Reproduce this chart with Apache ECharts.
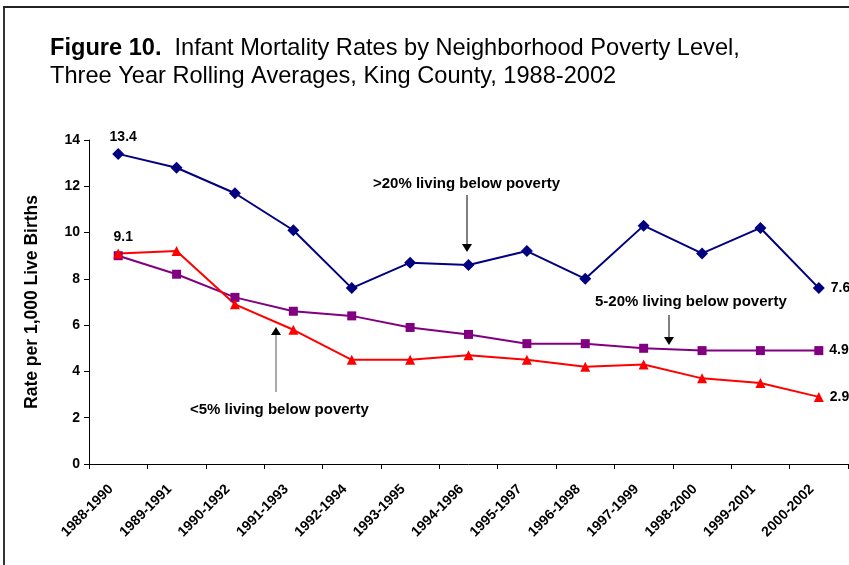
<!DOCTYPE html>
<html><head><meta charset="utf-8">
<script src="https://cdn.jsdelivr.net/npm/echarts@6/dist/echarts.min.js"></script>
<style>html,body{margin:0;padding:0;background:#fff}#c{width:849px;height:565px}</style>
</head><body><div id="c"></div>
<script>
const categories = ['1988-1990','1989-1991','1990-1992','1991-1993','1992-1994','1993-1995','1994-1996','1995-1997','1996-1998','1997-1999','1998-2000','1999-2001','2000-2002'];
const over20 = [13.4,12.8,11.7,10.1,7.6,8.7,8.6,9.2,8.0,10.3,9.1,10.2,7.6];
const mid5to20 = [9.0,8.2,7.2,6.6,6.4,5.9,5.6,5.2,5.2,5.0,4.9,4.9,4.9];
const under5 = [9.1,9.2,6.9,5.8,4.5,4.5,4.7,4.5,4.2,4.3,3.7,3.5,2.9];
const yTicks = [0,2,4,6,8,10,12,14];

const FONT = '"Liberation Sans", Arial, sans-serif';
const chart = echarts.init(document.getElementById('c'));

const valLabel = { fontFamily: FONT, fontWeight: 'bold', fontSize: 14, color: '#000' };

function mkSeries(name, data, color, symbol, size, showFirst) {
  return {
    name, type: 'line', symbol, symbolSize: size,
    lineStyle: { color, width: 2 },
    itemStyle: { color },
    label: { show: false },
    emphasis: { disabled: true },
    animation: false,
    data: data.map((v, i) => {
      const d = { value: v };
      if (i === data.length - 1) {
        d.label = Object.assign({ show: true, position: 'right', distance: 6, formatter: v.toFixed(1) }, valLabel);
      } else if (i === 0 && showFirst) {
        d.label = Object.assign({ show: true, position: 'top', distance: 4, offset: [5, 0], formatter: v.toFixed(1) }, valLabel);
      }
      return d;
    })
  };
}

const txt = { fontFamily: FONT, fontWeight: 'bold', fontSize: 15, fill: '#000', verticalAlign: 'middle' };

chart.setOption({
  animation: false,
  backgroundColor: '#fff',
  title: {
    left: 50, top: 34, padding: 0,
    text: '{b|Figure 10.}{n|  Infant Mortality Rates by Neighborhood Poverty Level,}\n{n|Three Year Rolling Averages, King County, 1988-2002}',
    textStyle: {
      rich: {
        b: { fontFamily: FONT, fontWeight: 'bold', fontSize: 23.6, color: '#000', lineHeight: 28 },
        n: { fontFamily: FONT, fontWeight: 'normal', fontSize: 23.6, color: '#000', lineHeight: 28 }
      }
    }
  },
  grid: { left: 89, right: 1, top: 140, bottom: 101, containLabel: false },
  xAxis: {
    type: 'category', data: categories, boundaryGap: true,
    axisLine: { lineStyle: { color: '#000', width: 1 } },
    axisTick: { show: true, alignWithLabel: false, length: 5, lineStyle: { color: '#000' } },
    axisLabel: { rotate: 45, interval: 0, fontFamily: FONT, fontWeight: 'bold', fontSize: 14, color: '#000', margin: 16, padding: [0, 10, 0, 0] },
    splitLine: { show: false }
  },
  yAxis: {
    type: 'value', min: 0, max: 14, interval: 2,
    name: 'Rate per 1,000 Live Births', nameLocation: 'middle', nameGap: 48,
    nameTextStyle: { fontFamily: FONT, fontWeight: 'bold', fontSize: 17.5, color: '#000' },
    axisLine: { show: true, lineStyle: { color: '#000', width: 1 } },
    axisTick: { show: true, length: 5, lineStyle: { color: '#000' } },
    axisLabel: { fontFamily: FONT, fontWeight: 'bold', fontSize: 14, color: '#000', margin: 9,
      formatter: v => yTicks.includes(v) ? String(v) : '' },
    splitLine: { show: false }
  },
  series: [
    mkSeries('>20% living below poverty', over20, '#000080', 'diamond', 12, true),
    mkSeries('5-20% living below poverty', mid5to20, '#800080', 'rect', 9, false),
    mkSeries('<5% living below poverty', under5, '#FF0000', 'triangle', 10, true)
  ],
  graphic: [
    { type: 'line', shape: { x1: 4, y1: 6, x2: 4, y2: 565 }, style: { stroke: '#333', lineWidth: 2 } },
    { type: 'line', shape: { x1: 3, y1: 7, x2: 849, y2: 7 }, style: { stroke: '#222', lineWidth: 2 } },
    { type: 'text', style: Object.assign({ text: '>20% living below poverty', x: 373, y: 184 }, txt) },
    { type: 'line', shape: { x1: 467, y1: 195, x2: 467, y2: 245 }, style: { stroke: '#000', lineWidth: 1 } },
    { type: 'polygon', shape: { points: [[462, 244], [472, 244], [467, 252]] }, style: { fill: '#000' } },
    { type: 'text', style: Object.assign({ text: '5-20% living below poverty', x: 595, y: 302 }, txt) },
    { type: 'line', shape: { x1: 669, y1: 315, x2: 669, y2: 338 }, style: { stroke: '#000', lineWidth: 1 } },
    { type: 'polygon', shape: { points: [[664, 337], [674, 337], [669, 345]] }, style: { fill: '#000' } },
    { type: 'text', style: Object.assign({ text: '<5% living below poverty', x: 190, y: 410 }, txt) },
    { type: 'line', shape: { x1: 276, y1: 392, x2: 276, y2: 334 }, style: { stroke: '#555', lineWidth: 1 } },
    { type: 'polygon', shape: { points: [[271, 335], [281, 335], [276, 327]] }, style: { fill: '#000' } }
  ]
});
</script></body></html>
